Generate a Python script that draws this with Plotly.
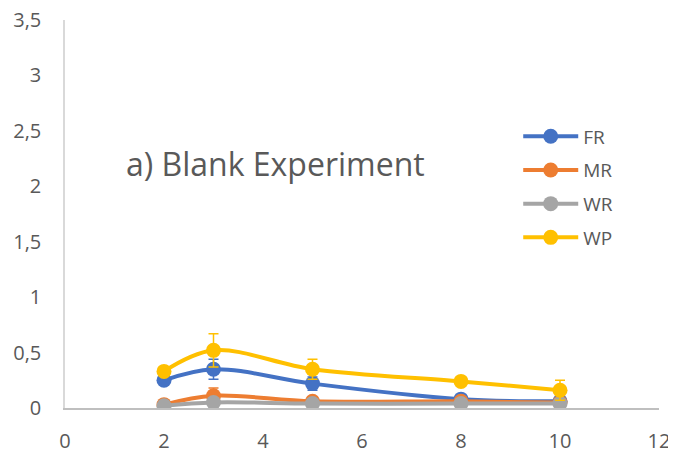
import plotly.graph_objects as go

x = [2, 3, 5, 8, 10]
fr = [0.25, 0.35, 0.22, 0.08, 0.06]
fr_err = [0.03, 0.09, 0.06, 0.02, 0.02]
mr = [0.03, 0.11, 0.06, 0.06, 0.05]
mr_err = [0.01, 0.07, 0.01, 0.01, 0.01]
wr = [0.02, 0.05, 0.04, 0.04, 0.04]
wr_err = [0.01, 0.02, 0.01, 0.01, 0.01]
wp = [0.33, 0.52, 0.35, 0.24, 0.16]
wp_err = [0.04, 0.15, 0.09, 0.02, 0.09]

series = [
    ("FR", fr, fr_err, "#4472C4"),
    ("MR", mr, mr_err, "#ED7D31"),
    ("WR", wr, wr_err, "#A5A5A5"),
    ("WP", wp, wp_err, "#FFC000"),
]

fig = go.Figure()
for name, y, err, col in series:
    fig.add_trace(go.Scatter(
        x=x, y=y, name=name, mode="lines+markers",
        line=dict(color=col, width=4, shape="spline"),
        marker=dict(color=col, size=15),
        error_y=dict(type="data", array=err, visible=True, color=col, thickness=1.5, width=5),
        legendgroup=name,
    ))

# page body has an 8px margin, so the figure is sized to fill the 676x454 window
fig.update_layout(
    width=668, height=446,
    margin=dict(l=57, r=17, t=12, b=46, autoexpand=False),
    paper_bgcolor="white", plot_bgcolor="white",
    separators=",.",
    font=dict(family="Open Sans, Liberation Sans, sans-serif", color="#595959", size=19),
    showlegend=True,
    legend=dict(x=0.763, y=0.749, xanchor="left", yanchor="top", itemwidth=55,
                font=dict(size=19, color="#595959"), tracegroupgap=6,
                traceorder="grouped", bgcolor="rgba(0,0,0,0)"),
    annotations=[dict(text="a) Blank Experiment", x=0.099, y=0.63, xref="paper", yref="paper",
                      xanchor="left", yanchor="middle", showarrow=False,
                      font=dict(size=32, color="#595959"))],
)
fig.update_xaxes(range=[0, 12], tickvals=[0, 2, 4, 6, 8, 10, 12], showgrid=False,
                 zeroline=False, showline=True, linecolor="#BFBFBF", linewidth=1.5,
                 ticks="", ticklabelstandoff=14, ticklabeloverflow="allow", automargin=False,
                 tickfont=dict(size=20, color="#595959"))
fig.update_yaxes(range=[0, 3.5], tickvals=[0, 0.5, 1, 1.5, 2, 2.5, 3, 3.5], showgrid=False,
                 zeroline=False, showline=True, linecolor="#D9D9D9", linewidth=1.5,
                 ticks="", ticklabelstandoff=18, ticklabeloverflow="allow", automargin=False,
                 tickfont=dict(size=20, color="#595959"))

fig.write_html("out.html")
